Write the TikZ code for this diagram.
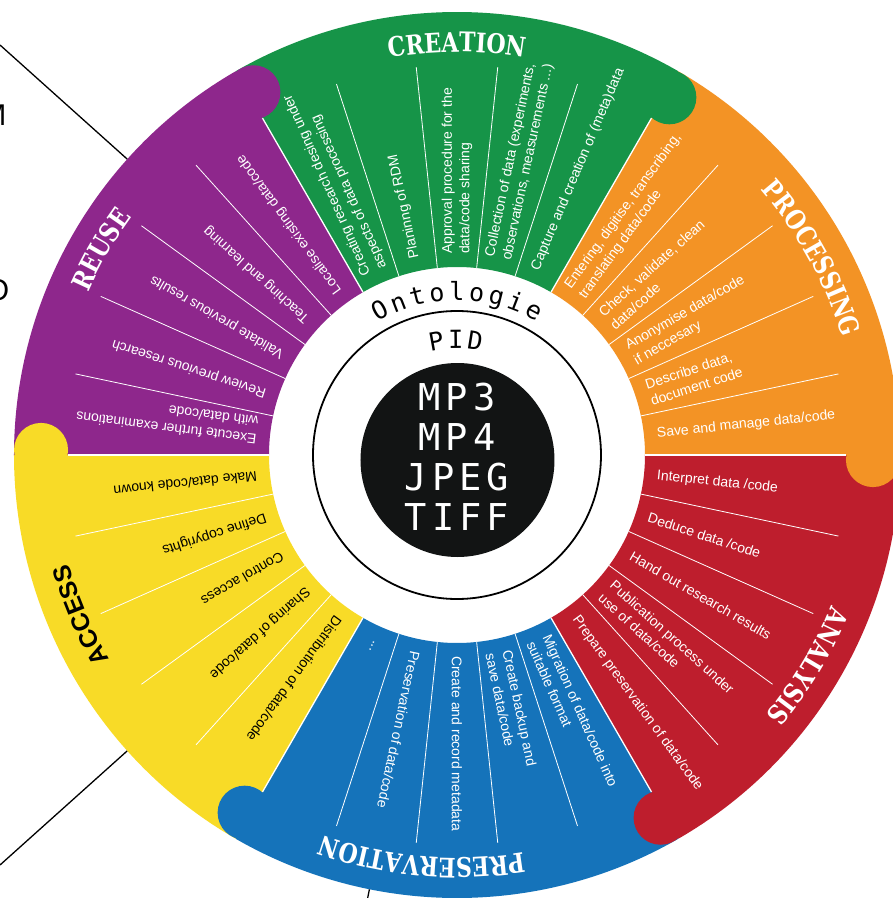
\documentclass[tikz,border=0pt]{standalone}
\usepackage{fontspec}
\setmainfont{Liberation Sans}
\newfontfamily\catfont[FakeStretch=0.82]{DejaVu Serif Bold}
\newfontfamily\monofont{DejaVu Sans Mono}
\usetikzlibrary{decorations.text}
\definecolor{cgreen}{RGB}{22,148,72}
\definecolor{corange}{RGB}{243,147,37}
\definecolor{cred}{RGB}{190,30,45}
\definecolor{cblue}{RGB}{21,115,186}
\definecolor{cyellow}{RGB}{248,219,39}
\definecolor{cpurple}{RGB}{142,39,140}
\definecolor{cblack}{RGB}{18,20,20}
\newcommand\catfmt{\catfont\fontsize{27}{30}\selectfont}
\newcommand\accfmt{\bfseries\fontsize{25}{28}\selectfont}
\newcommand\catlabel[4]{%
  \path[decorate, decoration={text along path, text align=center, text color=#2, text={|#4|#1}}]
    ({#3+30}:403) arc[start angle={#3+30}, end angle={#3-30}, radius=403];}
\begin{document}
\begin{tikzpicture}[x=1pt,y=1pt,
  item/.style={anchor=west, align=left, font=\fontsize{14}{17.5}\selectfont, inner sep=0pt, text=white},
  sepline/.style={draw=white, line width=0.8pt},
  bndline/.style={draw=white, line width=1.3pt},
  outline/.style={draw=black, line width=1.3pt},
  mono/.style={font=\monofont\fontsize{25}{25}\selectfont, inner sep=0pt, anchor=base, text=black},
  big/.style={font=\monofont\fontsize{37}{37}\selectfont, inner sep=0pt, anchor=base, text=white},
]
\useasboundingbox (-457,-443) rectangle (436,455);
\clip (-457,-443) rectangle (436,455);

% lines from neighbouring figures
\coordinate (ta) at (-457,410);
\coordinate (tb) at (138.1:443);
\coordinate (ba) at (-457,-410);
\coordinate (bb) at (221.9:443);
\coordinate (ca) at (258.6:443);
\coordinate (cb) at (258.6:475);
\draw[outline] (ta) -- (tb);
\draw[outline] (ba) -- (bb);
\draw[outline] (ca) -- (cb);

% cut-off letters at the left edge
\node[font=\fontsize{30}{30}\selectfont, inner sep=0pt, anchor=base east] (lm) at (-450.5,330) {M};
\node[font=\fontsize{30}{30}\selectfont, inner sep=0pt, anchor=base east] (lo) at (-447.5,155) {O};

% sectors
\foreach \col/\s/\e in {cgreen/60/120, corange/0/60, cred/-60/0, cblue/240/300, cyellow/180/240, cpurple/120/180}{
  \fill[\col] (\s:188) arc[start angle=\s, end angle=\e, radius=188] -- (\e:443)
     arc[start angle=\e, end angle=\s, radius=443] -- cycle;
}
% rounded caps
\foreach \col/\s in {cgreen/60, corange/0, cred/-60, cblue/240, cyellow/180, cpurple/120}{
  \fill[\col] ({\s-0.7}:416) circle (27);
}
% separators
\foreach \a in {0,60,...,300}{ \draw[bndline] (\a:188) -- (\a:389); }
\foreach \a in {12,24,36,48,72,84,96,108,132,144,156,168,192,204,216,228,252,264,276,288,312,324,336,348}{
  \draw[sepline] (\a:188) -- (\a:390);
}

% category labels
\catlabel{CREATION}{white}{90}{\catfmt}
\catlabel{PROCESSING}{white}{29}{\catfmt}
\catlabel{ANALYSIS}{white}{-31}{\catfmt}
\catlabel{PRESERVATION}{white}{265}{\catfmt}
\catlabel{ACCESS}{black}{203}{\accfmt}
\catlabel{REUSE}{white}{150}{\catfmt}

% creation
\node[item, rotate=114] (c1) at (114:201) {Creating research desing under\\aspects of data processing};
\node[item, rotate=102] (c2) at (102:201) {Planinng of RDM};
\node[item, rotate=90] (c3) at (90:201) {Approval procedure for the\\data/code sharing};
\node[item, rotate=78] (c4) at (78:201) {Collection of data (experiments,\\observations, measurements ...)};
\node[item, rotate=67] (c5) at (67:201) {Capture and creation of (meta)data};
% processing
\node[item, rotate=54] (p1) at (54:201) {Entering, digitise, transcribing,\\translating data/code};
\node[item, rotate=42] (p2) at (42:201) {Check, validate, clean\\data/code};
\node[item, rotate=30] (p3) at (30:201) {Anonymise data/code\\if neccesary};
\node[item, rotate=18] (p4) at (18:201) {Describe data,\\document code};
\node[item, rotate=6] (p5) at (6:201) {Save and manage data/code};
% analysis
\node[item, rotate=-6] (a1) at (-6:201) {Interpret data /code};
\node[item, rotate=-18] (a2) at (-18:201) {Deduce data /code};
\node[item, rotate=-30] (a3) at (-30:201) {Hand out research results};
\node[item, rotate=-42] (a4) at (-42:201) {Publication process under\\use of data/code};
\node[item, rotate=-54] (a5) at (-54:201) {Prepare preservation of data/code};
% preservation
\node[item, rotate=294] (v1) at (294:201) {Migration of data/code into\\suitable format};
\node[item, rotate=282] (v2) at (282:201) {Create backup and\\save data/code};
\node[item, rotate=270] (v3) at (270:201) {Create and record metadata};
\node[item, rotate=258] (v4) at (258:201) {Preservation of data/code};
\node[item, rotate=246] (v5) at (246:203) {...};
% access
\node[item, text=black, rotate=186] (s1) at (186:201) {Make data/code known};
\node[item, text=black, rotate=198] (s2) at (198:201) {Define copyrights};
\node[item, text=black, rotate=210] (s3) at (210:201) {Control access};
\node[item, text=black, rotate=222] (s4) at (222:201) {Sharing of data/code};
\node[item, text=black, rotate=234] (s5) at (234:201) {Distribution of data/code};
% reuse
\node[item, rotate=173] (r1) at (173:201) {Execute further examinations\\with data/code};
\node[item, rotate=162] (r2) at (162:201) {Review previous research};
\node[item, rotate=150] (r3) at (150:201) {Validate previous results};
\node[item, rotate=138] (r4) at (138:201) {Teaching and learning};
\node[item, rotate=126] (r5) at (126:201) {Localise existing data/code};

% centre
\draw[line width=1.8pt] (0,0) circle (144);
\fill[cblack] (0.5,-5) circle (97);
\foreach \ch [count=\i] in {O,n,t,o,l,o,g,i,e}{
  \pgfmathsetmacro\ang{118.2-7.04*(\i-1)}
  \node[mono, rotate=\ang-90] (ont\i) at (\ang:155) {\ch};
}
\foreach \ch/\ang [count=\i] in {P/100.3, I/90.6, D/80.9}{
  \node[mono, rotate=\ang-90] (pid\i) at (\ang:107) {\ch};
}
\node[big] (f1) at (0,45) {M\kern5pt P\kern5pt 3};
\node[big] (f2) at (0,5) {M\kern5pt P\kern5pt 4};
\node[big] (f3) at (0,-35) {J\kern5pt P\kern5pt E\kern5pt G};
\node[big] (f4) at (0,-75) {T\kern5pt I\kern5pt F\kern5pt F};
\end{tikzpicture}
\end{document}
